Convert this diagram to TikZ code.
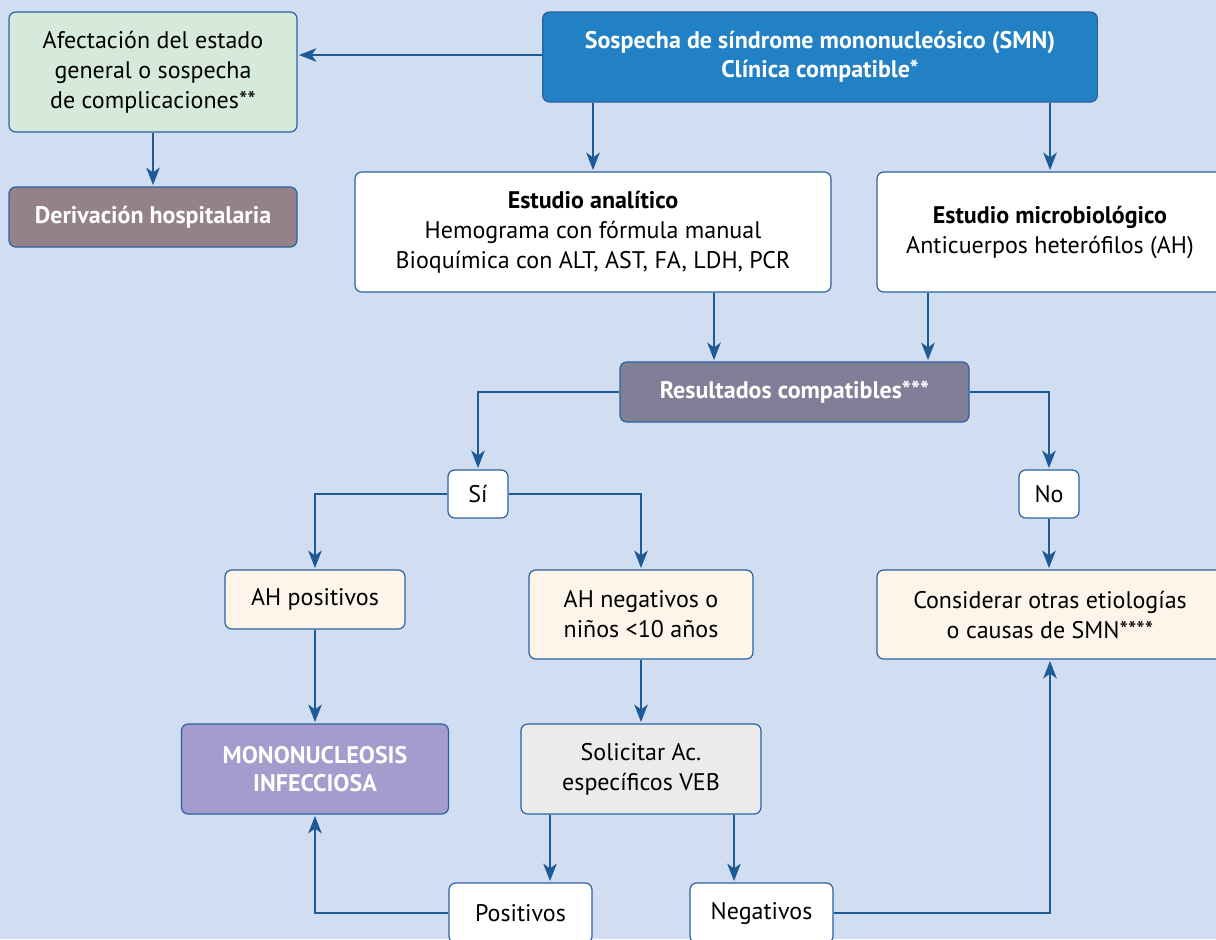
\documentclass[tikz,border=0pt]{standalone}
\usepackage{fontspec}
\setmainfont{PT Sans}
\usepackage{tikz}
\usetikzlibrary{arrows.meta}

\definecolor{bgblue}{RGB}{209,221,240}
\definecolor{edgeblue}{RGB}{42,98,160}
\definecolor{arrowblue}{RGB}{29,90,150}
\definecolor{greenfill}{RGB}{213,234,219}
\definecolor{mauvefill}{RGB}{149,130,137}
\definecolor{headblue}{RGB}{34,128,196}
\definecolor{greyviolet}{RGB}{129,127,152}
\definecolor{creamfill}{RGB}{254,245,234}
\definecolor{lilacfill}{RGB}{165,155,204}
\definecolor{greyfill}{RGB}{235,235,235}

\tikzset{
  box/.style={draw=edgeblue, line width=0.9pt, rounded corners=5pt, align=center, inner sep=0pt,
    font=\fontsize{18}{22.5}\selectfont},
  boldbox/.style={box, text=white, font=\bfseries\fontsize{18}{21.5}\selectfont},
  arr/.style={draw=arrowblue, line width=1.9pt, -{Stealth[length=13pt,width=10pt,inset=3.5pt]}, shorten >=1pt}
}

\begin{document}
\begin{tikzpicture}[x=0.75pt,y=0.75pt,yscale=-1,xscale=1]
    \fill[bgblue] (0,0) rectangle (1216,939);
    \useasboundingbox (0,0) rectangle (1216,939);

    % Top row
    \node [boldbox, fill=headblue, minimum width=416pt, minimum height=67.5pt] (sospecha) at (820,57) {Sospecha de síndrome mononucleósico (SMN)\\Clínica compatible*};
    \node [box, fill=greenfill, minimum width=216pt, minimum height=90pt] (afectacion) at (153,72) {Afectación del estado\\general o sospecha\\de complicaciones**};
    \node [boldbox, fill=mauvefill, minimum width=216pt, minimum height=45pt] (derivacion) at (153,217) {Derivación hospitalaria};

    % Studies
    \node [box, fill=white, minimum width=357pt, minimum height=90pt] (analitico) at (593,232) {\textbf{Estudio analítico}\\Hemograma con fórmula manual\\Bioquímica con ALT, AST, FA, LDH, PCR};
    \node [box, fill=white, minimum width=259.5pt, minimum height=90pt] (microbio) at (1050,232) {\textbf{Estudio microbiológico}\\Anticuerpos heterófilos (AH)};

    % Results
    \node [boldbox, fill=greyviolet, minimum width=261.75pt, minimum height=45pt] (resultados) at (794.5,392) {Resultados compatibles***};
    \node [box, fill=white, minimum width=45pt, minimum height=36pt] (si) at (478,494) {Sí};
    \node [box, fill=white, minimum width=45pt, minimum height=36pt] (no) at (1049,494) {No};

    % Branches
    \node [box, fill=creamfill, minimum width=135pt, minimum height=44.25pt] (ahpos) at (315,599.5) {AH positivos};
    \node [box, fill=creamfill, minimum width=168pt, minimum height=66.75pt] (ahneg) at (641,614.5) {AH negativos o\\niños <10 años};
    \node [box, fill=creamfill, minimum width=259.5pt, minimum height=66.75pt] (otras) at (1050,614.5) {Considerar otras etiologías\\o causas de SMN****};
    \node [boldbox, fill=lilacfill, minimum width=200.25pt, minimum height=67.5pt] (mono) at (315,769) {MONONUCLEOSIS\\INFECCIOSA};
    \node [box, fill=greyfill, minimum width=180pt, minimum height=67.5pt] (solicitar) at (641,769) {Solicitar Ac.\\específicos VEB};
    \node [box, fill=white, minimum width=107.25pt, minimum height=45pt] (positivos) at (520.5,913) {Positivos};
    \node [box, fill=white, minimum width=107.25pt, minimum height=45pt] (negativos) at (761.5,913) {Negativos};

    % Helper columns for off-centre connectors
    \coordinate (analout) at (714,0);
    \coordinate (microout) at (928,0);
    \coordinate (posin) at (550,0);
    \coordinate (negin) at (734,0);

    % Connectors
    \draw [arr] (sospecha.west |- 0,55) -- (afectacion.east |- 0,55);
    \draw [arr] (afectacion) -- (derivacion);
    \draw [arr] (analitico.north |- sospecha.south) -- (analitico.north);
    \draw [arr] (microbio.north |- sospecha.south) -- (microbio.north);
    \draw [arr] (analitico.south -| analout) -- (resultados.north -| analout);
    \draw [arr] (microbio.south -| microout) -- (resultados.north -| microout);
    \draw [arr] (resultados.west) -| (si.north);
    \draw [arr] (resultados.east) -| (no.north);
    \draw [arr] (si.west) -| (ahpos.north);
    \draw [arr] (si.east) -| (ahneg.north);
    \draw [arr] (no.south) -- (otras.north -| no.south);
    \draw [arr] (ahpos) -- (mono);
    \draw [arr] (ahneg) -- (solicitar);
    \draw [arr] (solicitar.south -| posin) -- (positivos.north -| posin);
    \draw [arr] (solicitar.south -| negin) -- (negativos.north -| negin);
    \draw [arr] (positivos.west) -| (mono.south);
    \draw [arr] (negativos.east) -| (otras.south);

\end{tikzpicture}
\end{document}
